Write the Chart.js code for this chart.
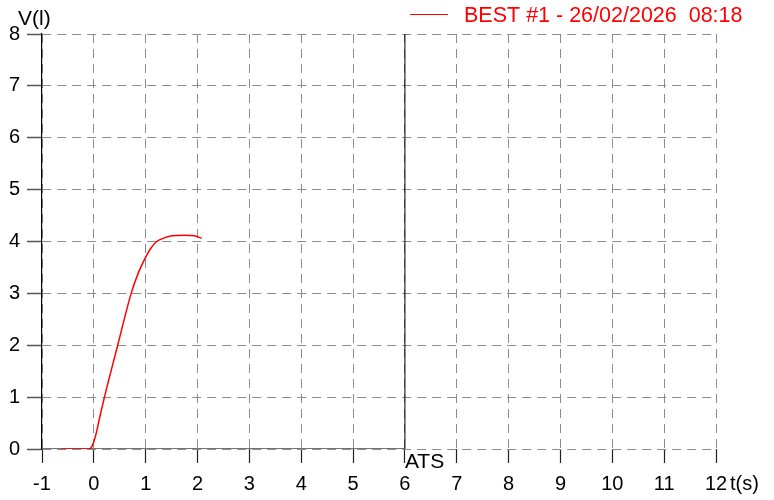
<!DOCTYPE html>
<html>
<head>
<meta charset="utf-8">
<script src="https://cdn.jsdelivr.net/npm/chart.js@4"></script>
<style>
  html, body { margin: 0; padding: 0; background: #ffffff; }
  #wrap { position: relative; width: 774px; height: 500px; }
</style>
</head>
<body>
<div id="wrap"><canvas id="chart"></canvas></div>
<script>
// measured curve (t in s, V in l)
const timeValues = [-0.63, -0.1, -0.05, 0, 0.05, 0.1, 0.2, 0.46, 0.72, 0.86, 1.0, 1.1, 1.2, 1.36, 1.51, 1.75, 1.94, 2.08];
const volumeValues = [0, 0, 0.03, 0.14, 0.32, 0.55, 0.98, 2.0, 3.0, 3.4, 3.7, 3.87, 3.99, 4.07, 4.11, 4.12, 4.11, 4.06];
const seriesLabel = 'BEST #1 - 26/02/2026  08:18';

// markers
const atsTime = 6;
const atsLabel = 'ATS';
const xRange = [-1, 12];
const yRange = [0, 8];
const xTitle = 't(s)';
const yTitle = 'V(l)';

const FONT = "'Liberation Sans', Arial, sans-serif";

const curvePoints = timeValues.map((t, i) => ({ x: t, y: volumeValues[i] }));

const overlayPlugin = {
  id: 'overlay',
  afterDraw(chart) {
    const { ctx, scales } = chart;
    const xs = scales.x;
    const ys = scales.y;
    ctx.save();
    ctx.fillStyle = '#000000';
    ctx.textBaseline = 'alphabetic';
    ctx.textAlign = 'left';
    ctx.font = `21px ${FONT}`;
    ctx.fillText(yTitle, 18, 25);
    ctx.font = `20px ${FONT}`;
    ctx.fillText(xTitle, 730, 490);

    // ATS label next to marker line
    ctx.font = `21px ${FONT}`;
    ctx.fillText(atsLabel, xs.getPixelForValue(atsTime), ys.getPixelForValue(0) + 19);

    // legend
    ctx.strokeStyle = '#ff0000';
    ctx.lineWidth = 1.2;
    ctx.beginPath();
    ctx.moveTo(410, 14.5);
    ctx.lineTo(448, 14.5);
    ctx.stroke();
    ctx.fillStyle = '#ff0000';
    ctx.font = `21.5px ${FONT}`;
    ctx.fillText(seriesLabel, 464, 22);
    ctx.restore();
  }
};

new Chart(document.getElementById('chart').getContext('2d'), {
  type: 'scatter',
  data: {
    datasets: [
      {
        label: seriesLabel,
        data: curvePoints,
        showLine: true,
        borderColor: '#ff0000',
        borderWidth: 1.5,
        pointRadius: 0,
        cubicInterpolationMode: 'monotone'
      },
      {
        label: atsLabel,
        data: [{ x: atsTime, y: yRange[0] }, { x: atsTime, y: yRange[1] }],
        showLine: true,
        borderColor: '#000000',
        borderWidth: 1,
        pointRadius: 0
      },
      {
        label: 'axis',
        data: [{ x: xRange[0], y: 0 }, { x: atsTime, y: 0 }],
        showLine: true,
        borderColor: '#444444',
        borderWidth: 1.5,
        pointRadius: 0
      }
    ]
  },
  options: {
    responsive: true,
    maintainAspectRatio: false,
    animation: false,
    layout: {
      padding: { top: 34, right: 58, left: 0, bottom: 0 }
    },
    plugins: {
      legend: { display: false },
      tooltip: { enabled: false }
    },
    scales: {
      x: {
        type: 'linear',
        min: xRange[0],
        max: xRange[1],
        afterFit(scale) { scale.height = 51; },
        border: { display: false, dash: [9, 6] },
        grid: {
          color: '#8c8c8c',
          lineWidth: 1,
          drawTicks: true,
          tickLength: 14,
          tickColor: '#222222',
          tickWidth: 1.2
        },
        ticks: {
          stepSize: 1,
          padding: 9,
          color: '#000000',
          maxRotation: 0,
          font: { family: FONT, size: 20 }
        }
      },
      y: {
        min: yRange[0],
        max: yRange[1],
        afterFit(scale) { scale.width = 42; },
        border: { display: true, color: '#000000', width: 1.2, dash: [9, 6] },
        grid: {
          color: '#8c8c8c',
          lineWidth: 1,
          drawTicks: true,
          tickLength: 15,
          tickColor: '#555555',
          tickWidth: 1.5
        },
        ticks: {
          stepSize: 1,
          padding: 7,
          color: '#000000',
          font: { family: FONT, size: 20 }
        }
      }
    }
  },
  plugins: [overlayPlugin]
});
</script>
</body>
</html>
